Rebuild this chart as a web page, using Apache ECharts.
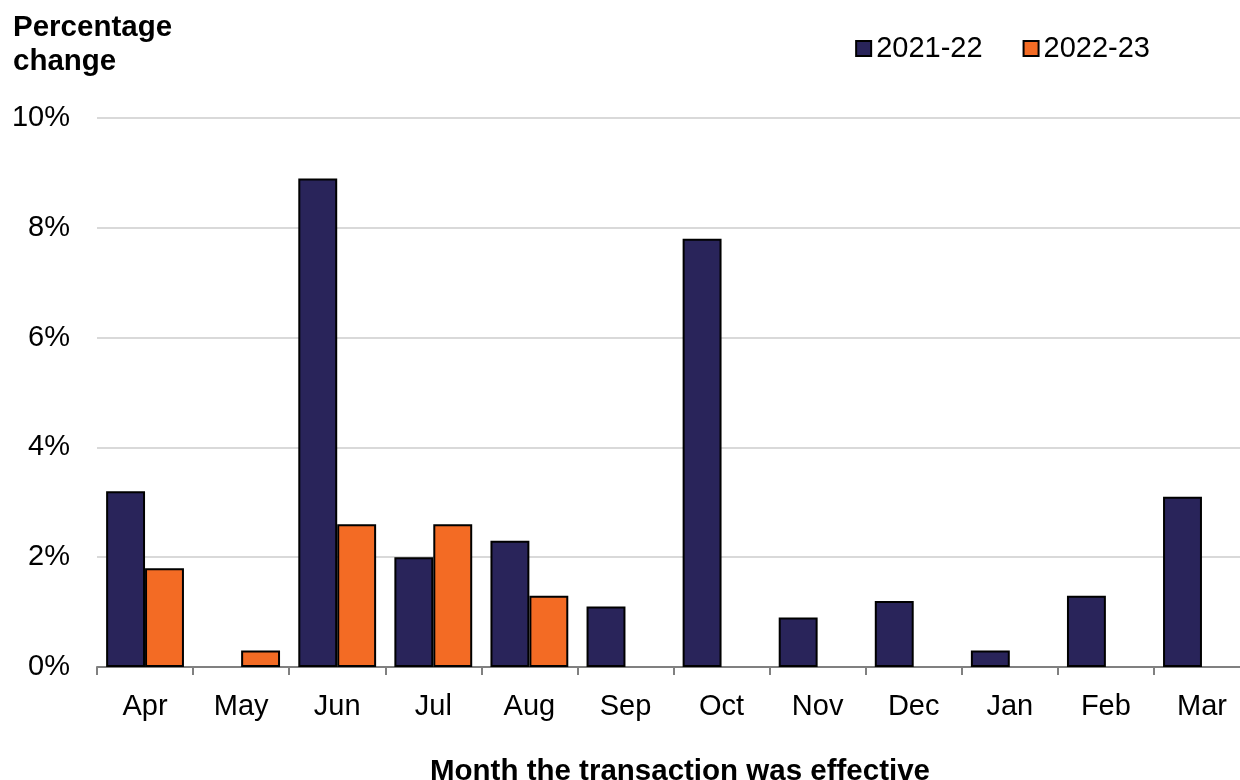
<!DOCTYPE html>
<html>
<head>
<meta charset="utf-8">
<script src="https://cdn.jsdelivr.net/npm/echarts@6/dist/echarts.min.js"></script>
<style>
  html, body { margin: 0; padding: 0; background: #fff; overflow: hidden; }
  /* The plot runs slightly past the right edge of the window, so the canvas is a little wider */
  #chart { width: 1250px; height: 780px; }
</style>
</head>
<body>
<div id="chart"></div>
<script>
// Months of the financial year
const months = ['Apr', 'May', 'Jun', 'Jul', 'Aug', 'Sep', 'Oct', 'Nov', 'Dec', 'Jan', 'Feb', 'Mar'];
// Percentage change by month the transaction was effective
const values2122 = [3.2, null, 8.9, 2.0, 2.3, 1.1, 7.8, 0.9, 1.2, 0.3, 1.3, 3.1];
const values2223 = [1.8, 0.3, 2.6, 2.6, 1.3, null, null, null, null, null, null, null];
const seriesNames = ['2021-22', '2022-23'];

const FONT = '"Liberation Sans", Arial, sans-serif';
const chart = echarts.init(document.getElementById('chart'), null, { renderer: 'canvas' });

chart.setOption({
  animation: false,
  backgroundColor: '#ffffff',
  textStyle: { fontFamily: FONT },
  title: [
    {
      text: 'Percentage\nchange',
      left: 8, top: 6,
      textStyle: { fontFamily: FONT, fontSize: 29.5, fontWeight: 'bold', color: '#000', lineHeight: 34 }
    },
    {
      text: 'Month the transaction was effective',
      left: 425, top: 752,
      textStyle: { fontFamily: FONT, fontSize: 29.5, fontWeight: 'bold', color: '#000' }
    }
  ],
  legend: {
    right: 95, top: 29,
    itemWidth: 15, itemHeight: 15, itemGap: 40,
    icon: 'rect',
    textStyle: { fontFamily: FONT, fontSize: 29, color: '#000', padding: [0, 0, 0, 0] },
    data: seriesNames
  },
  grid: { left: 97, right: 0, top: 118, bottom: 113 },
  xAxis: {
    type: 'category',
    data: months,
    boundaryGap: true,
    axisLine: { lineStyle: { color: '#808080', width: 2 } },
    axisTick: { show: true, length: 8, lineStyle: { color: '#808080', width: 2 } },
    axisLabel: { fontFamily: FONT, fontSize: 29, color: '#000', margin: 25 }
  },
  yAxis: {
    type: 'value',
    min: 0, max: 10, interval: 2,
    axisLine: { show: false },
    axisTick: { show: false },
    axisLabel: {
      fontFamily: FONT, fontSize: 29, color: '#000', margin: 27,
      formatter: v => v + '%'
    },
    splitLine: { lineStyle: { color: '#d9d9d9', width: 2 } }
  },
  series: [
    {
      name: seriesNames[0], type: 'bar', data: values2122,
      barGap: '0%', barCategoryGap: '19%',
      itemStyle: { color: '#29245a', borderColor: '#000', borderWidth: 2 }
    },
    {
      name: seriesNames[1], type: 'bar', data: values2223,
      barGap: '0%', barCategoryGap: '19%',
      itemStyle: { color: '#f36b24', borderColor: '#000', borderWidth: 2 }
    }
  ]
});
</script>
</body>
</html>
